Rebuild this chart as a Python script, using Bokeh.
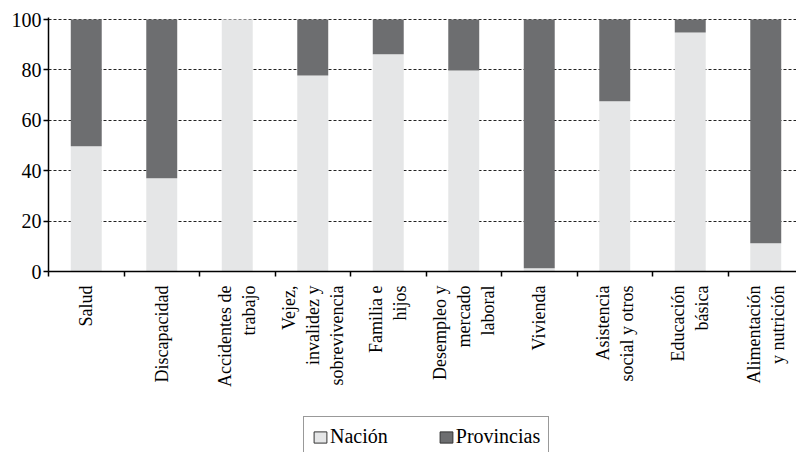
import numpy as np
from bokeh.plotting import figure
from bokeh.layouts import column
from bokeh.models import (ColumnDataSource, Range1d, FixedTicker, Legend, LegendItem)
from bokeh.embed import file_html
from bokeh.resources import INLINE

categories = ["Salud", "Discapacidad", "Accidentes de\ntrabajo",
              "Vejez,\ninvalidez y\nsobrevivencia", "Familia e\nhijos",
              "Desempleo y\nmercado\nlaboral", "Vivienda",
              "Asistencia\nsocial y otros", "Educación\nbásica",
              "Alimentación\ny nutrición"]
nacion = [49.7, 37.0, 100.0, 77.8, 86.2, 79.8, 1.3, 67.6, 94.8, 11.2]
provincias = [100 - v for v in nacion]
series_names = ["Nación", "Provincias"]
colors = ["#e5e6e7", "#6d6e70"]
y_ticks = [0, 20, 40, 60, 80, 100]

n = len(categories)
xs = [i + 0.5 for i in range(n)]
src = ColumnDataSource(dict(x=xs, nacion=nacion, provincias=provincias))

FONT = "'Liberation Serif', serif"
xr = Range1d(0, 748 / 75.5)
p = figure(width=796, height=416, output_backend="svg", toolbar_location=None,
           x_range=xr, y_range=Range1d(0, 100 + 2 / 2.52),
           min_border_left=48, min_border_right=0, min_border_top=17,
           min_border_bottom=145)
p.outline_line_color = None
p.background_fill_color = "white"

r = p.vbar_stack(["nacion", "provincias"], x="x", width=0.41, source=src,
                 color=colors, line_color=None)

# y axis
p.yaxis.ticker = FixedTicker(ticks=y_ticks)
p.yaxis.minor_tick_line_color = None
p.yaxis.major_tick_out = 5
p.yaxis.major_tick_in = 0
p.yaxis.major_label_standoff = 2
p.yaxis.axis_line_width = 1.5
p.yaxis.major_tick_line_width = 1.5
p.yaxis.major_label_text_font = FONT
p.yaxis.major_label_text_font_size = "20px"
p.yaxis.major_label_text_color = "black"

# x axis
p.xaxis.ticker = FixedTicker(ticks=xs, minor_ticks=list(range(0, n + 1)))
p.xaxis.major_label_overrides = {x: c for x, c in zip(xs, categories)}
p.xaxis.major_tick_out = 0
p.xaxis.major_tick_in = 0
p.xaxis.major_tick_line_color = None
p.xaxis.minor_tick_out = 5
p.xaxis.minor_tick_in = 0
p.xaxis.minor_tick_line_width = 1.5
p.xaxis.axis_line_width = 1.5
p.xaxis.major_label_orientation = np.pi / 2
p.xaxis.major_label_text_align = "right"
p.xaxis.major_label_standoff = 9
p.xaxis.major_label_text_font = FONT
p.xaxis.major_label_text_font_size = "18px"
p.xaxis.major_label_text_color = "black"

p.xgrid.grid_line_color = None
p.ygrid.ticker = FixedTicker(ticks=y_ticks[1:])
p.ygrid.grid_line_color = "#222222"
p.ygrid.grid_line_dash = "3 2"
p.ygrid.grid_line_width = 1

# legend strip below the chart
p2 = figure(width=796, height=36, output_backend="svg", toolbar_location=None,
            x_range=xr, y_range=Range1d(1000, 1001),
            x_axis_location=None, y_axis_location=None,
            min_border_left=0, min_border_right=0, min_border_top=0,
            min_border_bottom=0)
p2.outline_line_color = None
p2.grid.visible = False
r2 = p2.vbar_stack(["nacion", "provincias"], x="x", width=0.41, source=src,
                   color=colors, line_color="#333333")

legend = Legend(items=[LegendItem(label=series_names[0], renderers=[r2[0]]),
                       LegendItem(label=series_names[1], renderers=[r2[1]])],
                location=(255, -5), orientation="horizontal",
                border_line_color="#333333", border_line_width=1,
                label_text_font=FONT, label_text_font_size="20px",
                label_text_color="black",
                glyph_width=16, glyph_height=14, label_standoff=2,
                spacing=50, padding=8, margin=0, background_fill_alpha=1)
p2.add_layout(legend, "center")

layout = column(p, p2, spacing=0)
open("out.html", "w").write(file_html(layout, INLINE))
